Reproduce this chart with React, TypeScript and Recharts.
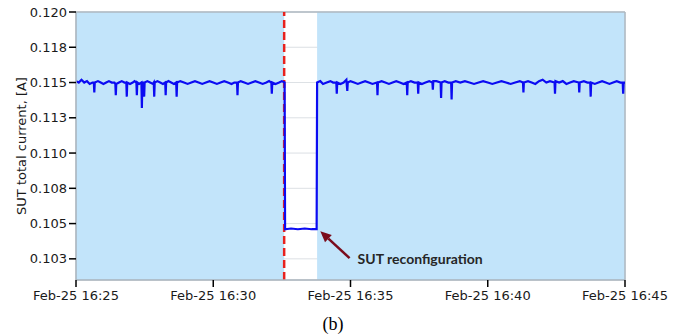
import {
  LineChart,
  Line,
  XAxis,
  YAxis,
  CartesianGrid,
  ReferenceArea,
  ReferenceLine,
} from "recharts";

// seconds after Feb-25 16:25:00
const xTicks = [0, 300, 600, 900, 1200];
const xTickLabels = ["Feb-25 16:25", "Feb-25 16:30", "Feb-25 16:35", "Feb-25 16:40", "Feb-25 16:45"];

const yTicks = [0.1025, 0.105, 0.1075, 0.11, 0.1125, 0.115, 0.1175, 0.12];
const yTickLabels = ["0.103", "0.105", "0.108", "0.110", "0.113", "0.115", "0.118", "0.120"];

// light blue = normal operation, white gap = reconfiguration window
const normalSpans: [number, number][] = [
  [0, 455],
  [527, 1200],
];
const reconfigStart = 455;

// annotation arrow: [tail, head] in (sec, A)
const arrowTail = { x: 598, y: 0.10255 };
const arrowHead = { x: 534, y: 0.10446 };
const arrowText = "SUT reconfiguration";

const beforeReconfig: [number, number][] = [
  [0, 0.1151], [6, 0.115], [12, 0.1152], [18, 0.115], [24, 0.1151], [30, 0.1149], [36, 0.115],
  [39, 0.115], [40, 0.1143], [41, 0.115], [48, 0.1151], [54, 0.115], [60, 0.1149], [66, 0.115],
  [72, 0.1151], [78, 0.115], [84, 0.115], [86, 0.1149], [87, 0.1141], [88, 0.1149], [94, 0.115],
  [100, 0.1151], [106, 0.115], [110, 0.115], [111, 0.114], [112, 0.115], [118, 0.1149], [124, 0.115],
  [128, 0.1151], [132, 0.115], [133, 0.1141], [134, 0.115], [138, 0.1149], [143, 0.115], [144, 0.1132],
  [145, 0.115], [148, 0.115], [149, 0.114], [150, 0.115], [156, 0.1151], [162, 0.115], [168, 0.1149],
  [170, 0.115], [171, 0.114], [172, 0.115], [178, 0.1151], [184, 0.115], [190, 0.1149], [195, 0.115],
  [196, 0.1141], [197, 0.115], [202, 0.1151], [208, 0.115], [214, 0.1149], [219, 0.115], [220, 0.114],
  [221, 0.115], [228, 0.1151], [236, 0.115], [244, 0.1149], [252, 0.115], [260, 0.1151], [268, 0.115],
  [276, 0.1149], [284, 0.115], [292, 0.1151], [300, 0.115], [308, 0.1149], [316, 0.115], [324, 0.1151],
  [332, 0.115], [340, 0.1149], [346, 0.115], [352, 0.115], [353, 0.1141], [354, 0.115], [360, 0.1151],
  [368, 0.115], [376, 0.1149], [384, 0.115], [392, 0.1151], [400, 0.115], [408, 0.1149], [416, 0.115],
  [422, 0.1151], [427, 0.115], [428, 0.1142], [429, 0.115], [436, 0.1149], [444, 0.115], [450, 0.1151],
  [456, 0.115],
];

const duringReconfig: [number, number][] = [
  [457, 0.1046], [470, 0.10465], [485, 0.1046], [500, 0.10465], [515, 0.1046], [526, 0.1046],
];

const afterReconfig: [number, number][] = [
  [527, 0.115], [534, 0.1151], [540, 0.1149], [548, 0.115], [556, 0.1151], [562, 0.115], [569, 0.115],
  [570, 0.1142], [571, 0.115], [578, 0.1149], [585, 0.115], [591, 0.1152], [593, 0.1144], [594, 0.115],
  [600, 0.1151], [608, 0.115], [616, 0.1149], [624, 0.115], [632, 0.1151], [640, 0.115], [648, 0.1149],
  [658, 0.115], [659, 0.1141], [660, 0.115], [668, 0.1151], [676, 0.115], [684, 0.1149], [692, 0.115],
  [700, 0.1151], [708, 0.115], [716, 0.1149], [723, 0.115], [724, 0.1141], [725, 0.115], [732, 0.1151],
  [740, 0.115], [747, 0.115], [748, 0.1142], [749, 0.115], [756, 0.1149], [764, 0.115], [772, 0.1151],
  [779, 0.115], [780, 0.1145], [781, 0.1151], [788, 0.1151], [797, 0.115], [798, 0.1139], [799, 0.115],
  [806, 0.1151], [814, 0.115], [820, 0.115], [821, 0.1138], [822, 0.115], [830, 0.1151], [840, 0.115],
  [850, 0.1151], [860, 0.115], [870, 0.1149], [880, 0.115], [890, 0.1151], [900, 0.115], [910, 0.1149],
  [920, 0.115], [930, 0.1151], [940, 0.115], [950, 0.1149], [960, 0.115], [970, 0.1151], [977, 0.115],
  [978, 0.1143], [979, 0.115], [988, 0.1151], [996, 0.115], [1004, 0.1149], [1012, 0.1151], [1020, 0.1152],
  [1028, 0.115], [1036, 0.1151], [1046, 0.115], [1047, 0.1142], [1048, 0.1151], [1056, 0.115],
  [1064, 0.1151], [1072, 0.1149], [1080, 0.115], [1088, 0.1151], [1099, 0.115], [1100, 0.1143],
  [1101, 0.115], [1110, 0.1151], [1118, 0.115], [1124, 0.115], [1125, 0.114], [1126, 0.115],
  [1134, 0.1149], [1142, 0.115], [1150, 0.1151], [1158, 0.115], [1166, 0.1149], [1174, 0.115],
  [1182, 0.1151], [1190, 0.115], [1195, 0.115], [1196, 0.1142], [1197, 0.115], [1200, 0.115],
];

const readings = [...beforeReconfig, ...duringReconfig, ...afterReconfig].map(([t, a]) => ({ t, a }));

const tickStyle = { fill: "#1a1a1a", fontSize: 13, fontFamily: "DejaVu Sans" };

function Arrow(props: any) {
  const { x1, y1, x2, y2 } = props;
  const dx = x2 - x1;
  const dy = y2 - y1;
  const len = Math.hypot(dx, dy) || 1;
  const ux = dx / len;
  const uy = dy / len;
  const headLen = 11;
  const headW = 5;
  const bx = x2 - ux * headLen;
  const by = y2 - uy * headLen;
  const pts = `${x2},${y2} ${bx - uy * headW},${by + ux * headW} ${bx + uy * headW},${by - ux * headW}`;
  return (
    <g>
      <line x1={x1} y1={y1} x2={bx} y2={by} stroke="#7a0c1c" strokeWidth={2.5} />
      <polygon points={pts} fill="#7a0c1c" />
      <text x={x1 + 8} y={y1 + 6} fill="#262626" fontSize={14} fontWeight="bold" fontFamily="Lato">
        {arrowText}
      </text>
    </g>
  );
}

function YLabel(props: any) {
  const vb = props.viewBox || { x: 0, y: 0, width: 0, height: 0 };
  const cx = 26;
  const cy = vb.y + vb.height / 2;
  return (
    <text
      x={cx}
      y={cy}
      transform={`rotate(-90 ${cx} ${cy})`}
      textAnchor="middle"
      fill="#1a1a1a"
      fontSize={13}
      fontFamily="DejaVu Sans"
    >
      SUT total current, [A]
    </text>
  );
}

export default function App() {
  return (
    <div style={{ position: "absolute", left: 0, top: 0, width: 681, height: 336, background: "#fff" }}>
      <LineChart
        width={681}
        height={312}
        margin={{ top: 12, right: 56, bottom: 0, left: 0 }}
        style={{ fontFamily: "DejaVu Sans" }}
      >
        {normalSpans.map(([a, b]) => (
          <ReferenceArea key={a} x1={a} x2={b} fill="#c2e4fa" fillOpacity={1} stroke="none" ifOverflow="hidden" />
        ))}
        <CartesianGrid stroke="#9aa7b1" strokeOpacity={0.35} />
        <XAxis
          type="number"
          dataKey="t"
          domain={[0, 1200]}
          ticks={xTicks}
          tickFormatter={(v: number) => xTickLabels[xTicks.indexOf(v)]}
          tick={tickStyle}
          tickSize={7}
          tickMargin={4}
          height={32}
          axisLine={{ stroke: "#a9b3bb", strokeWidth: 1.5 }}
          tickLine={{ stroke: "#000", strokeWidth: 1.5 }}
          allowDataOverflow
        />
        <YAxis
          type="number"
          domain={[0.101, 0.12]}
          ticks={yTicks}
          tickFormatter={(v: number) => yTickLabels[yTicks.indexOf(v)]}
          tick={tickStyle}
          tickSize={7}
          tickMargin={2}
          width={76}
          axisLine={{ stroke: "#a9b3bb", strokeWidth: 1.5 }}
          tickLine={{ stroke: "#000", strokeWidth: 1.5 }}
          allowDataOverflow
          label={<YLabel />}
        />
        <ReferenceLine y={0.12} stroke="#aeb8c0" strokeWidth={1.5} />
        <ReferenceLine x={1200} stroke="#aeb8c0" strokeWidth={1.5} />
        <ReferenceLine x={reconfigStart} stroke="#e8221e" strokeWidth={2.5} strokeDasharray="8 4" />
        <Line
          data={readings}
          dataKey="a"
          type="linear"
          stroke="#0b0bf2"
          strokeWidth={2.2}
          dot={false}
          isAnimationActive={false}
        />
        <ReferenceLine segment={[arrowTail, arrowHead]} shape={Arrow} ifOverflow="visible" />
      </LineChart>
      <div
        style={{
          position: "absolute",
          top: 314,
          left: 0,
          width: 666,
          textAlign: "center",
          fontFamily: "Liberation Serif",
          fontSize: 18,
          color: "#000",
        }}
      >
        (b)
      </div>
    </div>
  );
}
